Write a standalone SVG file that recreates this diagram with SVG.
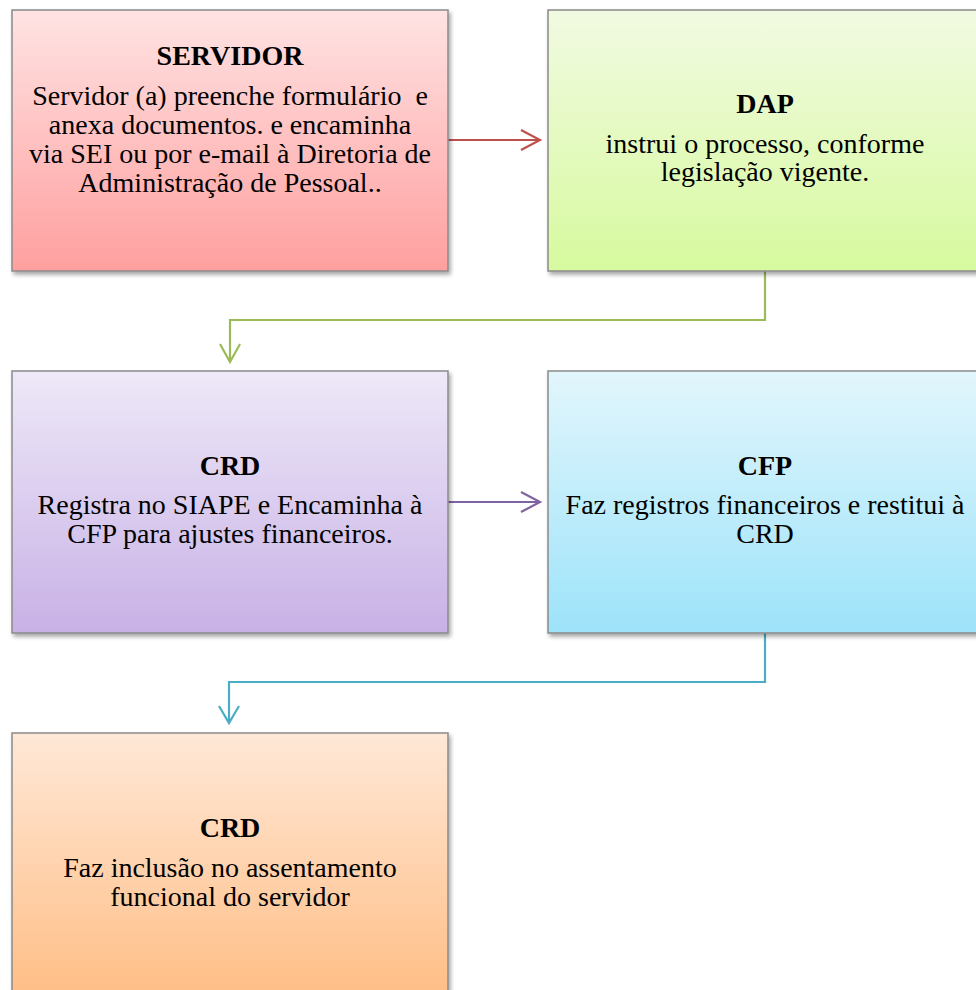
<svg xmlns="http://www.w3.org/2000/svg" width="976" height="990" viewBox="0 0 976 990">
  <style>
    .box { stroke: #8a8a8a; stroke-width: 1.5; filter: url(#shadow); }
    .title { font-family: "Liberation Serif", "Times New Roman", serif; font-size: 28px; font-weight: bold; fill: #000; text-anchor: middle; }
    .body { font-family: "Liberation Serif", "Times New Roman", serif; font-size: 28px; fill: #000; text-anchor: middle; }
    .conn { fill: none; stroke-width: 2.2; }
  </style>
  <defs>
    <filter id="shadow" x="-5%" y="-5%" width="115%" height="115%">
      <feGaussianBlur in="SourceAlpha" stdDeviation="2"/>
      <feOffset dx="1.5" dy="3" result="b"/>
      <feComponentTransfer><feFuncA type="linear" slope="0.35"/></feComponentTransfer>
      <feMerge><feMergeNode/><feMergeNode in="SourceGraphic"/></feMerge>
    </filter>
    <linearGradient id="gRed" x1="0" y1="0" x2="0" y2="1">
      <stop offset="0" stop-color="#FFE3E3"/>
      <stop offset="1" stop-color="#FF9F9F"/>
    </linearGradient>
    <linearGradient id="gGreen" x1="0" y1="0" x2="0" y2="1">
      <stop offset="0" stop-color="#F1FAE2"/>
      <stop offset="1" stop-color="#D7FA9E"/>
    </linearGradient>
    <linearGradient id="gPurple" x1="0" y1="0" x2="0" y2="1">
      <stop offset="0" stop-color="#EEE9F8"/>
      <stop offset="1" stop-color="#C8B1E6"/>
    </linearGradient>
    <linearGradient id="gBlue" x1="0" y1="0" x2="0" y2="1">
      <stop offset="0" stop-color="#E2F6FC"/>
      <stop offset="1" stop-color="#9DE3FA"/>
    </linearGradient>
    <linearGradient id="gOrange" x1="0" y1="0" x2="0" y2="1">
      <stop offset="0" stop-color="#FFE8D7"/>
      <stop offset="1" stop-color="#FFBE86"/>
    </linearGradient>
  </defs>

  <!-- connectors -->
  <g id="connectors">
    <g stroke="#C0504D" class="conn">
      <path d="M448 140 H539"/>
      <path d="M521 130 L540 140 L521 150"/>
    </g>
    <g stroke="#9BBB59" class="conn">
      <path d="M765 271 V320 H230 V361"/>
      <path d="M220 344 L230 362 L240 344"/>
    </g>
    <g stroke="#8064A2" class="conn">
      <path d="M448 502 H539"/>
      <path d="M521 492 L540 502 L521 512"/>
    </g>
    <g stroke="#4BACC6" class="conn">
      <path d="M765 633 V682 H229 V722"/>
      <path d="M219 706 L229 723 L239 706"/>
    </g>
  </g>

  <g id="servidor">
    <rect class="box" x="12" y="10" width="436" height="261" fill="url(#gRed)"/>
    <text class="title" x="230" y="65">SERVIDOR</text>
    <text class="body" x="230" y="105" xml:space="preserve">Servidor (a) preenche formulário  e</text>
    <text class="body" x="230" y="134">anexa documentos. e encaminha</text>
    <text class="body" x="230" y="163">via SEI ou por e-mail à Diretoria de</text>
    <text class="body" x="230" y="192">Administração de Pessoal..</text>
  </g>

  <g id="dap">
    <rect class="box" x="548" y="10" width="436" height="261" fill="url(#gGreen)"/>
    <text class="title" x="765" y="113">DAP</text>
    <text class="body" x="765" y="153">instrui o processo, conforme</text>
    <text class="body" x="765" y="181">legislação vigente.</text>
  </g>

  <g id="crd-siape">
    <rect class="box" x="12" y="371" width="436" height="262" fill="url(#gPurple)"/>
    <text class="title" x="230" y="475">CRD</text>
    <text class="body" x="230" y="514">Registra no SIAPE e Encaminha à</text>
    <text class="body" x="230" y="543">CFP para ajustes financeiros.</text>
  </g>

  <g id="cfp">
    <rect class="box" x="548" y="371" width="436" height="262" fill="url(#gBlue)"/>
    <text class="title" x="765" y="475">CFP</text>
    <text class="body" x="765" y="514">Faz registros financeiros e restitui à</text>
    <text class="body" x="765" y="543">CRD</text>
  </g>

  <g id="crd-assentamento">
    <rect class="box" x="12" y="733" width="436" height="262" fill="url(#gOrange)"/>
    <text class="title" x="230" y="837">CRD</text>
    <text class="body" x="230" y="877">Faz inclusão no assentamento</text>
    <text class="body" x="230" y="906">funcional do servidor</text>
  </g>
</svg>
